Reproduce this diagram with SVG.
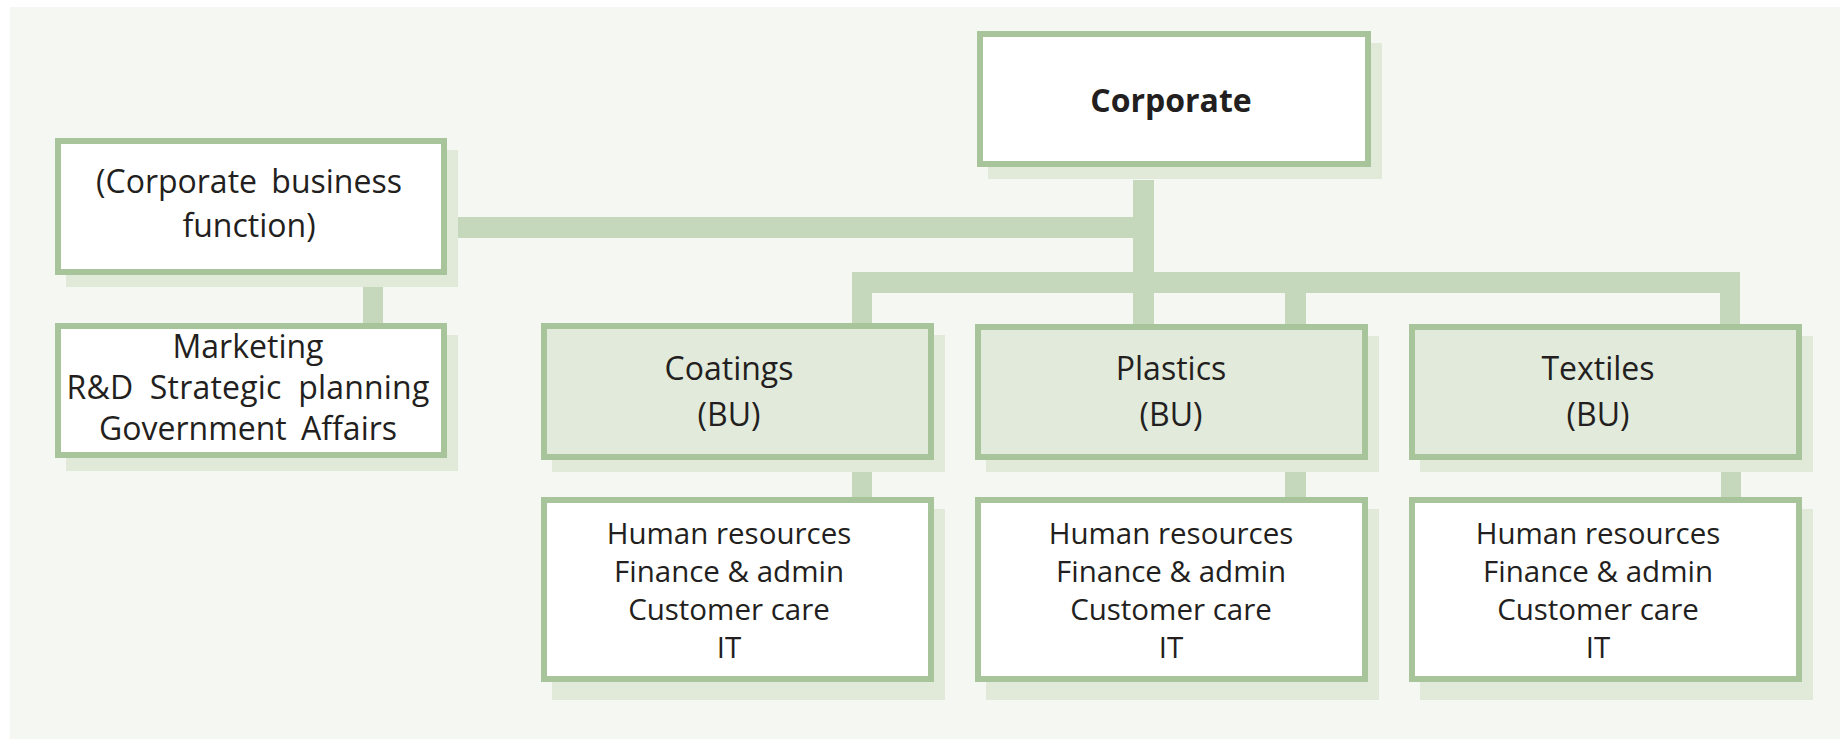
<svg xmlns="http://www.w3.org/2000/svg" width="1840" height="739" viewBox="0 0 1840 739">
<style>
.bg{fill:#f5f7f2}
.sh{fill:#e1e9d9}
.bx{fill:#ffffff;stroke:#a8c49a;stroke-width:6}
.bu{fill:#e2eadb;stroke:#a8c49a;stroke-width:6}
.cn{fill:#c5d8bb}
text{font-family:"Open Sans","Liberation Sans",sans-serif;fill:#231f20;text-anchor:middle}
.t{font-size:32px}
.w{word-spacing:6px}
.s{font-size:29.5px}
.b{font-size:32px;font-weight:bold}
</style>
<rect x="0" y="0" width="1840" height="739" fill="#ffffff"/>
<rect class="bg" x="10" y="7" width="1830" height="732"/>
<g id="connectors">
<rect class="cn" x="1133" y="180" width="21" height="145"/>
<rect class="cn" x="458" y="217" width="676" height="21"/>
<rect class="cn" x="852" y="272" width="888" height="21"/>
<rect class="cn" x="852" y="292" width="20" height="33"/>
<rect class="cn" x="1285" y="292" width="21" height="34"/>
<rect class="cn" x="1720" y="292" width="20" height="34"/>
<rect class="cn" x="363" y="287" width="20" height="38"/>
<rect class="cn" x="852" y="470" width="20" height="29"/>
<rect class="cn" x="1285" y="470" width="21" height="29"/>
<rect class="cn" x="1721" y="470" width="20" height="29"/>
</g>
<g id="corporate">
<rect class="sh" x="988" y="43" width="394" height="136"/>
<rect class="bx" x="980" y="34" width="388" height="130"/>
<text class="b" x="1171" y="112">Corporate</text>
</g>
<g id="cbf">
<rect class="sh" x="66" y="150" width="392" height="137"/>
<rect class="bx" x="58" y="141" width="386" height="131"/>
<text class="t w" x="249" y="193">(Corporate business</text>
<text class="t" x="249" y="237">function)</text>
</g>
<g id="cbf-functions">
<rect class="sh" x="66" y="335" width="392" height="136"/>
<rect class="bx" x="58" y="326" width="386" height="129"/>
<text class="t" x="248" y="358">Marketing</text>
<text class="t" x="248" y="399" style="word-spacing:8px;letter-spacing:0.2px">R&amp;D Strategic planning</text>
<text class="t w" x="248" y="440">Government Affairs</text>
</g>
<g id="coatings">
<rect class="sh" x="552" y="335" width="393" height="137"/>
<rect class="bu" x="544" y="326" width="387" height="131"/>
<text class="t" x="729" y="380">Coatings</text>
<text class="t" x="729" y="426">(BU)</text>
</g>
<g id="coatings-functions">
<rect class="sh" x="552" y="509" width="393" height="191"/>
<rect class="bx" x="544" y="500" width="387" height="179"/>
<text class="s" x="729" y="544">Human resources</text>
<text class="s" x="729" y="582">Finance &amp; admin</text>
<text class="s" x="729" y="620">Customer care</text>
<text class="s" x="729" y="658">IT</text>
</g>
<g id="plastics">
<rect class="sh" x="986" y="336" width="393" height="136"/>
<rect class="bu" x="978" y="327" width="387" height="130"/>
<text class="t" x="1171" y="380">Plastics</text>
<text class="t" x="1171" y="426">(BU)</text>
</g>
<g id="plastics-functions">
<rect class="sh" x="986" y="509" width="393" height="191"/>
<rect class="bx" x="978" y="500" width="387" height="179"/>
<text class="s" x="1171" y="544">Human resources</text>
<text class="s" x="1171" y="582">Finance &amp; admin</text>
<text class="s" x="1171" y="620">Customer care</text>
<text class="s" x="1171" y="658">IT</text>
</g>
<g id="textiles">
<rect class="sh" x="1420" y="336" width="393" height="136"/>
<rect class="bu" x="1412" y="327" width="387" height="130"/>
<text class="t" x="1598" y="380">Textiles</text>
<text class="t" x="1598" y="426">(BU)</text>
</g>
<g id="textiles-functions">
<rect class="sh" x="1420" y="509" width="393" height="191"/>
<rect class="bx" x="1412" y="500" width="387" height="179"/>
<text class="s" x="1598" y="544">Human resources</text>
<text class="s" x="1598" y="582">Finance &amp; admin</text>
<text class="s" x="1598" y="620">Customer care</text>
<text class="s" x="1598" y="658">IT</text>
</g>
</svg>
